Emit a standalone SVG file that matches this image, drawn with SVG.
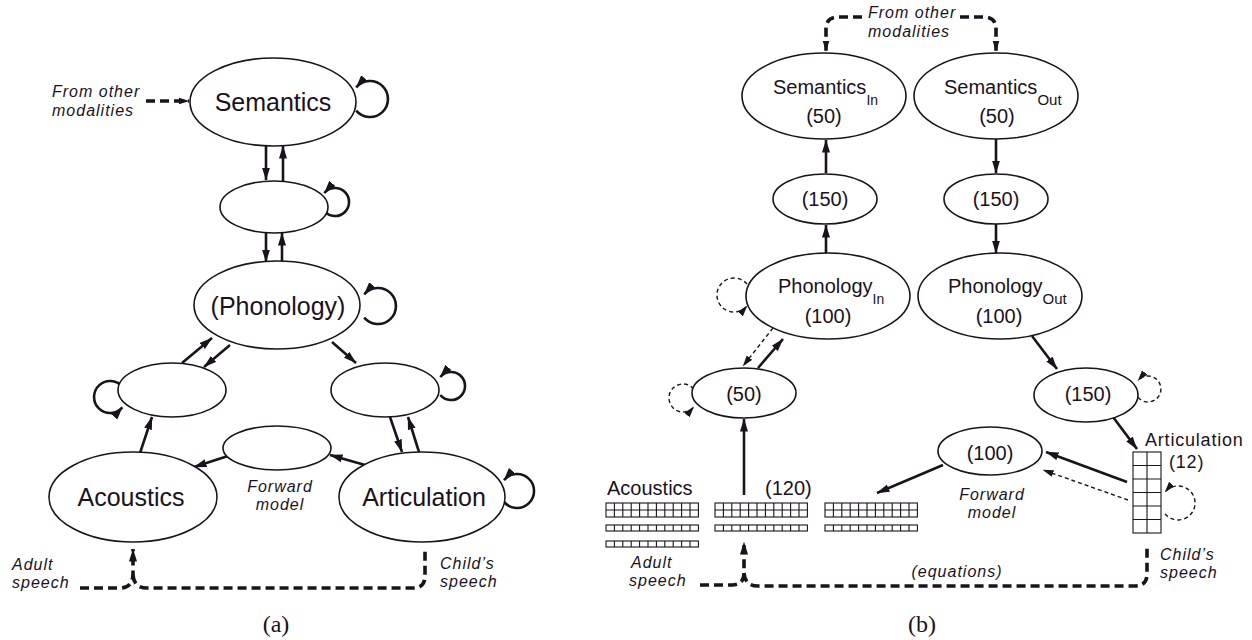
<svg xmlns="http://www.w3.org/2000/svg" xmlns:xlink="http://www.w3.org/1999/xlink" width="1252" height="640" viewBox="0 0 1252 640">
<style>
.n{fill:#fff;stroke:#1a121c;stroke-width:1.6}
.g{fill:#fff;stroke:#1a121c;stroke-width:1.1}
.c{fill:none;stroke:#1a121c;stroke-width:2.6}
.d{fill:none;stroke:#1a121c;stroke-width:3.6;stroke-dasharray:9 5}
.t{fill:none;stroke:#1a121c;stroke-width:1.4;stroke-dasharray:4 3}
.lp{fill:none;stroke:#1a121c;stroke-width:2.6}
text{font-family:"Liberation Sans",Arial,sans-serif;fill:#1a121c}
.L{font-size:25px;text-anchor:middle}
.R{font-size:20px}
.Rm{font-size:20px;text-anchor:middle}
.A{font-size:18px;letter-spacing:0.8px}
.i{font-style:italic;font-size:16px;letter-spacing:1px}
.im{font-style:italic;font-size:16px;letter-spacing:1px;text-anchor:middle}
.cap{font-family:"Liberation Serif","Times New Roman",serif;font-size:24px;text-anchor:middle}
</style>
<defs>
<marker id="ah" markerUnits="userSpaceOnUse" markerWidth="13" markerHeight="9" viewBox="0 0 13 9" refX="12.5" refY="4.5" orient="auto"><path d="M0 0.5L13 4.5L0 8.5z" fill="#1a121c"/></marker>
<marker id="as" markerUnits="userSpaceOnUse" markerWidth="11" markerHeight="8" viewBox="0 0 11 8" refX="10.5" refY="4" orient="auto"><path d="M0 0.5L11 4L0 7.5z" fill="#1a121c"/></marker>
<g id="gA"><rect x="0" y="0" width="92.4" height="14"/><path d="M0 7H92.4M8.4 0V14M16.8 0V14M25.2 0V14M33.6 0V14M42 0V14M50.4 0V14M58.8 0V14M67.2 0V14M75.6 0V14M84 0V14"/></g>
<g id="gB"><rect x="0" y="0" width="92.4" height="6"/><path d="M8.4 0V6M16.8 0V6M25.2 0V6M33.6 0V6M42 0V6M50.4 0V6M58.8 0V6M67.2 0V6M75.6 0V6M84 0V6"/></g>
</defs>
<rect width="1252" height="640" fill="#fff"/>

<g id="connectors">
<!-- left panel -->
<path class="d" d="M146 101H189" marker-end="url(#as)"/>
<path class="c" d="M266 146V180" marker-end="url(#ah)"/>
<path class="c" d="M283 181V146" marker-end="url(#ah)"/>
<path class="c" d="M266 233V262" marker-end="url(#ah)"/>
<path class="c" d="M282 262V233" marker-end="url(#ah)"/>
<path class="c" d="M182 363L212 338" marker-end="url(#ah)"/>
<path class="c" d="M230 345L204 367" marker-end="url(#ah)"/>
<path class="c" d="M140 453L152 417" marker-end="url(#ah)"/>
<path class="c" d="M332 342L356 363" marker-end="url(#ah)"/>
<path class="c" d="M390 417L402 452" marker-end="url(#ah)"/>
<path class="c" d="M419 452L408 417" marker-end="url(#ah)"/>
<path class="c" d="M365 465L330 455" marker-end="url(#ah)"/>
<path class="c" d="M228 456L194 467" marker-end="url(#ah)"/>
<path class="d" d="M80 588H120Q132 588 133 575V549" marker-end="url(#ah)"/>
<path class="d" d="M133 575Q134 588 147 588H413Q425 588 425 576V547"/>
<path class="lp" d="M356.2 110.6A18 18 0 1 0 356.2 87.4" marker-end="url(#ah)"/>
<path class="lp" d="M324.3 211A14 14 0 1 0 324.3 193" marker-end="url(#ah)"/>
<path class="lp" d="M364.2 317.6A18 18 0 1 0 364.2 294.4" marker-end="url(#ah)"/>
<path class="lp" d="M122.3 386.7A16 16 0 1 0 122.3 407.3" marker-end="url(#ah)"/>
<path class="lp" d="M440.3 395A14 14 0 1 0 440.3 377" marker-end="url(#ah)"/>
<path class="lp" d="M504 501.9A17 17 0 1 0 504 480.1" marker-end="url(#ah)"/>
<!-- right panel -->
<path class="d" d="M862 17H838Q826 17 826 29V51" marker-end="url(#as)"/>
<path class="d" d="M960 17H984Q996 17 996 29V51" marker-end="url(#as)"/>
<path class="c" d="M826 173V140" marker-end="url(#ah)"/>
<path class="c" d="M996 139V173" marker-end="url(#ah)"/>
<path class="c" d="M826 253V225" marker-end="url(#ah)"/>
<path class="c" d="M996 224V253" marker-end="url(#ah)"/>
<path class="c" d="M758 368L783 339" marker-end="url(#ah)"/>
<path class="t" d="M773 328L743 366" marker-end="url(#as)"/>
<path class="c" d="M1032 336L1057 369" marker-end="url(#ah)"/>
<path class="c" d="M1113 417L1137 449" marker-end="url(#ah)"/>
<path class="c" d="M1127 482L1046 452" marker-end="url(#ah)"/>
<path class="t" d="M1128 500L1043 470" marker-end="url(#as)"/>
<path class="c" d="M943 465L877 493" marker-end="url(#ah)"/>
<path class="c" d="M744 495V419" marker-end="url(#ah)"/>
<path class="d" d="M700 585H732Q744 585 744 573V542" marker-end="url(#ah)"/>
<path class="d" d="M744 573Q745 586 758 586H1135Q1147 586 1147 574V546"/>
<path class="t" d="M747 284.1A17 17 0 1 0 747 305.9" marker-end="url(#as)"/>
<path class="t" d="M693.7 389A14 14 0 1 0 693.7 407" marker-end="url(#as)"/>
<path class="t" d="M1138 397.4A13 13 0 1 0 1138 380.6" marker-end="url(#as)"/>
<path class="t" d="M1165 513.9A17 17 0 1 0 1165 492.1" marker-end="url(#as)"/>
</g>

<!-- left panel nodes -->
<g id="a-semantics"><ellipse class="n" cx="273" cy="102" rx="83" ry="44"/><text class="L" x="273" y="111">Semantics</text></g>
<g id="a-hidden1"><ellipse class="n" cx="274" cy="207" rx="54" ry="26"/></g>
<g id="a-phonology"><ellipse class="n" cx="277" cy="305" rx="83" ry="44"/><text class="L" x="278" y="315">(Phonology)</text></g>
<g id="a-hidden-left"><ellipse class="n" cx="172" cy="390" rx="54" ry="27"/></g>
<g id="a-hidden-right"><ellipse class="n" cx="385" cy="390" rx="54" ry="27"/></g>
<g id="a-forward"><ellipse class="n" cx="277" cy="448" rx="54" ry="22"/></g>
<g id="a-acoustics"><ellipse class="n" cx="133" cy="497" rx="84" ry="45"/><text class="L" x="131" y="506">Acoustics</text></g>
<g id="a-articulation"><ellipse class="n" cx="422" cy="497" rx="83" ry="45"/><text class="L" x="424" y="506">Articulation</text></g>
<g id="a-labels">
<text class="i" x="52" y="97">From other</text><text class="i" x="52" y="116">modalities</text>
<text class="im" x="280" y="492">Forward</text><text class="im" x="280" y="510">model</text>
<text class="i" x="12" y="570">Adult</text><text class="i" x="12" y="588">speech</text>
<text class="i" x="440" y="569">Child’s</text><text class="i" x="440" y="587">speech</text>
<text class="cap" x="276" y="632">(a)</text>
</g>

<!-- right panel nodes -->
<g id="b-sem-in"><ellipse class="n" cx="824" cy="96" rx="82" ry="43"/><text class="R" x="773" y="94">Semantics<tspan dy="11" font-size="14">In</tspan></text><text class="Rm" x="824" y="123">(50)</text></g>
<g id="b-sem-out"><ellipse class="n" cx="996" cy="96" rx="82" ry="43"/><text class="R" x="944" y="94">Semantics<tspan dy="11" font-size="15">Out</tspan></text><text class="Rm" x="997" y="123">(50)</text></g>
<g id="b-hid-in"><ellipse class="n" cx="825" cy="199" rx="52" ry="25"/><text class="Rm" x="825" y="206">(150)</text></g>
<g id="b-hid-out"><ellipse class="n" cx="996" cy="199" rx="52" ry="25"/><text class="Rm" x="996" y="206">(150)</text></g>
<g id="b-phon-in"><ellipse class="n" cx="828" cy="296" rx="82" ry="43"/><text class="R" x="778" y="293">Phonology<tspan dy="11" font-size="14">In</tspan></text><text class="Rm" x="828" y="323">(100)</text></g>
<g id="b-phon-out"><ellipse class="n" cx="1000" cy="296" rx="82" ry="43"/><text class="R" x="948" y="293">Phonology<tspan dy="11" font-size="15">Out</tspan></text><text class="Rm" x="999" y="323">(100)</text></g>
<g id="b-hid-50"><ellipse class="n" cx="744" cy="393" rx="52" ry="25"/><text class="Rm" x="744" y="401">(50)</text></g>
<g id="b-hid-150"><ellipse class="n" cx="1086" cy="395" rx="52" ry="27"/><text class="Rm" x="1088" y="401">(150)</text></g>
<g id="b-forward"><ellipse class="n" cx="990" cy="451" rx="52" ry="24"/><text class="Rm" x="990" y="460">(100)</text></g>
<g id="b-articulation"><rect class="g" x="1133" y="452" width="28" height="81"/><path class="g" d="M1147 452V533M1133 465.5H1161M1133 479H1161M1133 492.5H1161M1133 506H1161M1133 519.5H1161"/><text class="A" x="1145" y="446">Articulation</text><text class="A" x="1169" y="468">(12)</text></g>
<g id="b-acoustics" class="g"><use xlink:href="#gA" x="606" y="503"/><use xlink:href="#gB" x="606" y="525"/><use xlink:href="#gB" x="606" y="541"/></g>
<g id="b-acoustics-label"><text class="R" x="607" y="495">Acoustics</text></g>
<g id="b-hid-120" class="g"><use xlink:href="#gA" x="715" y="503"/><use xlink:href="#gB" x="715" y="525"/></g>
<g id="b-hid-120-label"><text class="R" x="765" y="495">(120)</text></g>
<g id="b-predicted" class="g"><use xlink:href="#gA" x="825" y="503"/><use xlink:href="#gB" x="825" y="525"/></g>
<g id="b-labels">
<text class="i" x="868" y="18">From other</text><text class="i" x="868" y="37">modalities</text>
<text class="im" x="992" y="500">Forward</text><text class="im" x="992" y="518">model</text>
<text class="im" x="957" y="577">(equations)</text>
<text class="i" x="631" y="568">Adult</text><text class="i" x="629" y="586">speech</text>
<text class="i" x="1160" y="560">Child’s</text><text class="i" x="1160" y="578">speech</text>
<text class="cap" x="922" y="632">(b)</text>
</g>
</svg>
